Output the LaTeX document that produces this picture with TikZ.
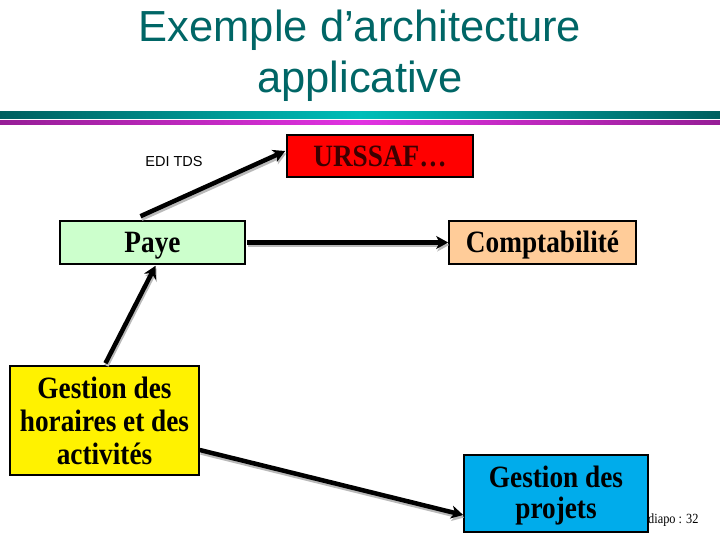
\documentclass[tikz,border=0pt]{standalone}
\usepackage{fontspec}
\setmainfont{Liberation Serif}
\newfontfamily\arialfont{Liberation Sans}
\newfontfamily\boxfont[FakeStretch=0.88]{Liberation Serif}
\usetikzlibrary{arrows.meta,calc}
\definecolor{titleteal}{RGB}{0,102,102}
\definecolor{tealdark}{RGB}{0,95,95}
\definecolor{teallight}{RGB}{0,190,185}
\definecolor{magdark}{RGB}{150,30,150}
\definecolor{maglight}{RGB}{225,50,225}
\definecolor{payegreen}{RGB}{204,255,204}
\definecolor{comptaorange}{RGB}{255,204,153}
\definecolor{projblue}{RGB}{0,172,235}
\definecolor{urssaftext}{RGB}{60,0,0}
\newcommand{\lowertext}[1]{\raisebox{-3pt}[\height][\depth]{#1}}
\tikzset{
  box/.style={draw=black, line width=1.6pt, inner sep=0pt, align=center,
    font=\boxfont\fontsize{31}{33}\selectfont\bfseries},
  conn/.style={line width=4.5pt, -{Stealth[length=12pt,width=13pt,inset=3.5pt]}},
  connshadow/.style={line width=4.5pt, draw=gray!55, -{Stealth[length=12pt,width=13pt,inset=3.5pt]}},
  sh/.style={xshift=1pt,yshift=-2.5pt},
}
\begin{document}
\begin{tikzpicture}[x=1pt,y=-1pt]
\useasboundingbox (0,0) rectangle (720,540);
% title
\node[font=\arialfont\fontsize{43.5}{51}\selectfont, text=titleteal, align=center] (title) at (360,56) {Exemple d’architecture\\applicative};
% bars
\shade[left color=tealdark,right color=teallight] (0,112) rectangle (360,118.5);
\shade[left color=teallight,right color=tealdark] (360,112) rectangle (720,118.5);
\shade[left color=magdark,right color=maglight] (0,121) rectangle (360,125);
\shade[left color=maglight,right color=magdark] (360,121) rectangle (720,125);
% footer
\node[font=\boxfont\fontsize{14}{16}\selectfont, anchor=base west, inner sep=0pt] (diapo) at (648,523) {diapo : 32};
% nodes
\node[box, fill=red, text=urssaftext, minimum width=186pt, minimum height=42pt] (urssaf) at (380,156) {URSSAF…};
\node[box, fill=payegreen, minimum width=185pt, minimum height=43pt] (paye) at (152.5,242.5) {\lowertext{Paye}};
\node[box, fill=comptaorange, minimum width=187pt, minimum height=43pt] (compta) at (542.5,242.5) {\lowertext{Comptabilité}};
\node[box, fill=yellow, minimum width=189pt, minimum height=109pt] (horaires) at (104.5,420.5) {Gestion des\\horaires et des\\activités};
\node[box, fill=projblue, minimum width=184pt, minimum height=77pt] (projets) at (556,493.5) {\lowertext{\begin{tabular}{@{}c@{}}Gestion des\\[-2pt]projets\end{tabular}}};
\node[font=\arialfont\fontsize{14.5}{16}\selectfont] (edi) at (174,162) {EDI TDS};
% connectors
\coordinate (s1) at ($(paye.north)+(-12,-4)$);
\coordinate (e1) at ($(urssaf.west)+(-1,-5)$);
\coordinate (s3) at ($(horaires.north)+(1,-2)$);
\coordinate (e3) at ($(paye.south)+(3,1)$);
\coordinate (s4) at ($(horaires.east)+(0,29.5)$);
\coordinate (e4) at ($(projets.west)+(0,21.5)$);
\coordinate (s2) at ($(paye.east)+(1,0)$);
\coordinate (e2) at ($(compta.west)+(0,0)$);
\draw[connshadow] ([sh]s1) -- ([sh]e1);
\draw[connshadow] ([sh]s2) -- ([sh]e2);
\draw[connshadow] ([sh]s3) -- ([sh]e3);
\draw[connshadow] ([sh]s4) -- ([sh]e4);
\draw[conn] (s1) -- (e1);
\draw[conn] (s2) -- (e2);
\draw[conn] (s3) -- (e3);
\draw[conn] (s4) -- (e4);
\end{tikzpicture}
\end{document}
